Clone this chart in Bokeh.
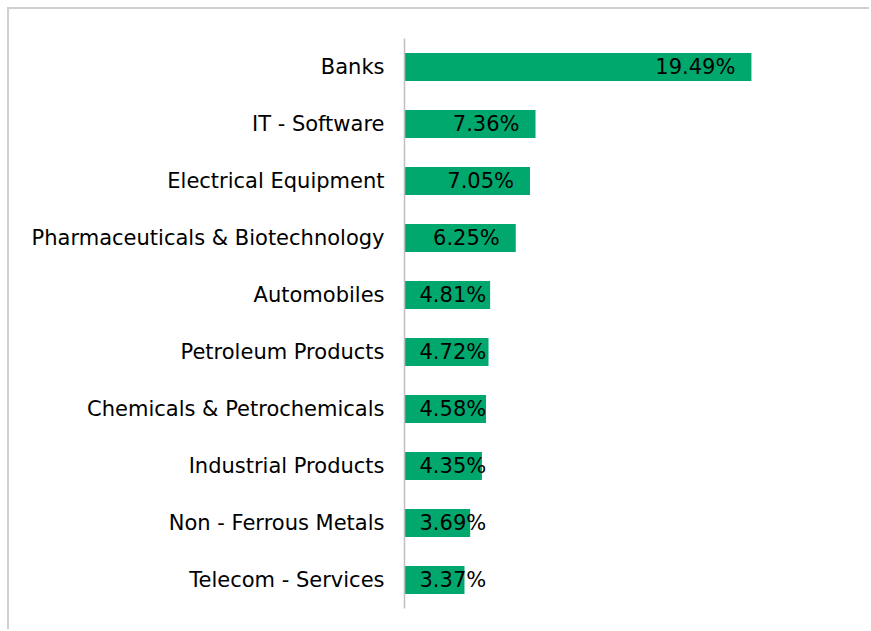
from bokeh.plotting import figure
from bokeh.models import ColumnDataSource, Range1d, FactorRange
from bokeh.core.properties import value
from bokeh.embed import file_html
from bokeh.resources import INLINE

categories = ["Banks", "IT - Software", "Electrical Equipment",
              "Pharmaceuticals & Biotechnology", "Automobiles",
              "Petroleum Products", "Chemicals & Petrochemicals",
              "Industrial Products", "Non - Ferrous Metals", "Telecom - Services"]
weights = [19.49, 7.36, 7.05, 6.25, 4.81, 4.72, 4.58, 4.35, 3.69, 3.37]
labels = ["%.2f%%" % w for w in weights]

FONT = "DejaVu Sans"
FS = 21
GREEN = "#00A86E"
X_MAX = 25
FRAME_W = 445
PX = FRAME_W / X_MAX

p = figure(width=862, height=622, output_backend="svg", toolbar_location=None,
           y_range=FactorRange(factors=list(reversed(categories))),
           x_range=Range1d(0, X_MAX),
           min_border_left=395, min_border_right=22, min_border_top=29, min_border_bottom=23)
p.styles = {"margin-left": "7px", "margin-top": "7px",
            "border-top": "2px solid #D0D0D0", "border-left": "2px solid #D0D0D0"}
p.outline_line_color = None
p.background_fill_color = "white"
p.border_fill_color = "white"
p.xgrid.visible = False
p.ygrid.visible = False
p.xaxis.visible = False

ax = p.yaxis[0]
ax.axis_line_color = "#BFBFBF"
ax.axis_line_width = 1.5
ax.major_tick_line_color = None
ax.minor_tick_line_color = None
ax.major_tick_out = 0
ax.major_tick_in = 0
ax.major_label_standoff = 20
ax.major_label_text_font = FONT
ax.major_label_text_font_size = f"{FS}px"
ax.major_label_text_color = "#000000"

src = ColumnDataSource(dict(cat=categories, w=weights, lab=labels))
p.hbar(y="cat", right="w", left=0, height=0.49, source=src,
       fill_color=GREEN, line_color=None)

# label placement: inside end, clamped to bar start when the bar is too short
cw = {"%": 19.9, ".": 6.7}
def text_w(s):
    return sum(cw.get(ch, 13.4) for ch in s)

inside = dict(cat=[], w=[], lab=[])
clamped = dict(cat=[], w=[], lab=[])
for c, w, l in zip(categories, weights, labels):
    d = inside if (w * PX - 16 - text_w(l)) >= 15 else clamped
    d["cat"].append(c); d["w"].append(w); d["lab"].append(l)

p.text(x="w", y="cat", text="lab", source=ColumnDataSource(inside),
       text_align="right", text_baseline="middle", x_offset=-16,
       text_font=value(FONT), text_font_size=f"{FS}px", text_color="#000000")
clamped["zero"] = [0] * len(clamped["cat"])
p.text(x="zero", y="cat", text="lab", source=ColumnDataSource(clamped),
       text_align="left", text_baseline="middle", x_offset=15,
       text_font=value(FONT), text_font_size=f"{FS}px", text_color="#000000")

open("out.html", "w").write(file_html(p, INLINE))
